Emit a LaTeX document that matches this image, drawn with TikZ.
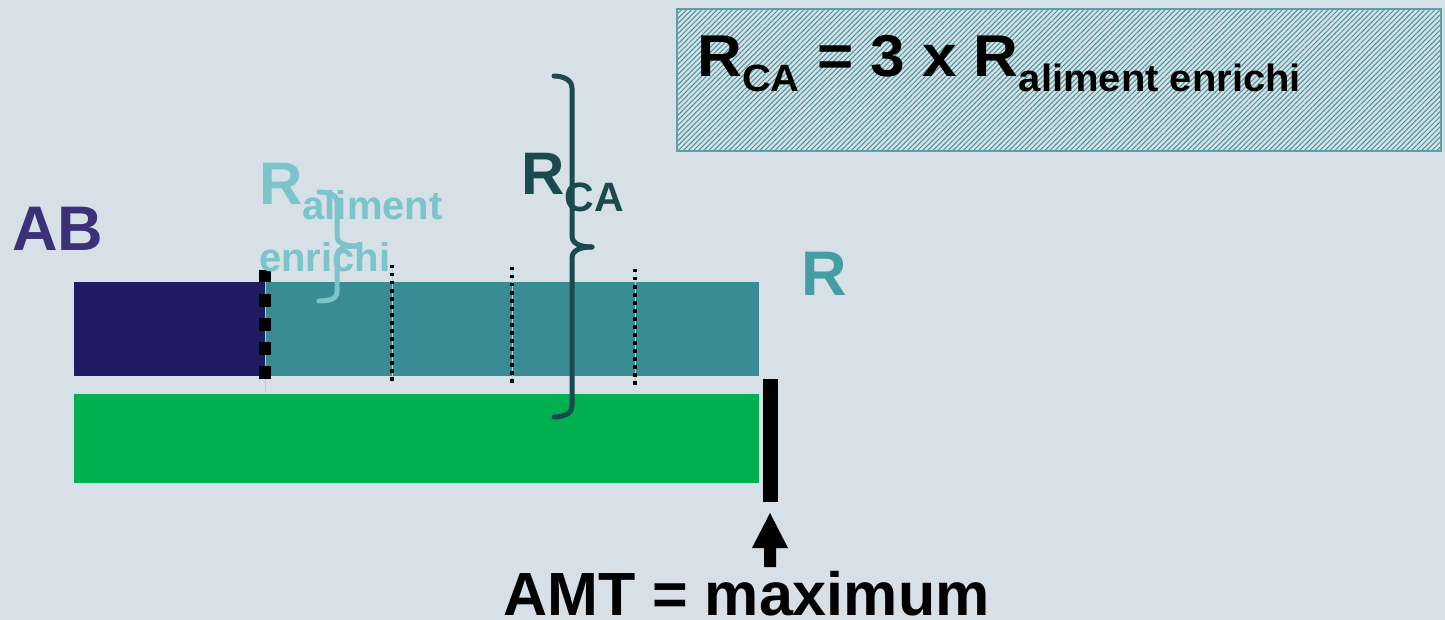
\documentclass[tikz,border=0pt]{standalone}
\usepackage{fontspec}
\setmainfont{Liberation Sans}
\usetikzlibrary{patterns.meta}
\definecolor{bgc}{RGB}{214,224,230}
\definecolor{navy}{RGB}{30,26,100}
\definecolor{tealbar}{RGB}{58,140,148}
\definecolor{greenbar}{RGB}{0,176,80}
\definecolor{abcol}{RGB}{59,49,120}
\definecolor{rcol}{RGB}{69,156,164}
\definecolor{lightteal}{RGB}{122,196,202}
\definecolor{darkteal}{RGB}{26,74,78}
\definecolor{boxline}{RGB}{90,160,166}
\definecolor{hatch}{RGB}{70,150,156}
\newcommand{\fs}[1]{\fontsize{#1}{#1}\selectfont}
\tikzset{
  lbl/.style={inner sep=0pt, anchor=base west, font=\bfseries},
  dotline/.style={line width=3.5pt, dash pattern=on 3.5pt off 4.5pt, black},
  thinline/.style={line width=1pt, color=lightteal!70!white},
  bracestyle/.style={line width=5pt, line cap=round, line join=round}
}
\begin{document}
\begin{tikzpicture}[x=1pt,y=-1pt]
\fill[bgc] (0,0) rectangle (1445,620);
\useasboundingbox (0,0) rectangle (1445,620);
% hatched box
\path[pattern={Lines[angle=45,distance=3.6pt,line width=1pt]}, pattern color=hatch] (677,9) rectangle (1441,151);
\draw[boxline, line width=1.5pt] (677,9) rectangle (1441,151);
\node[lbl] (eq) at (697,77) {\scalebox{1.052}[1]{\fs{59}R\raisebox{-15pt}{\fs{38}CA} = 3 x R\raisebox{-15pt}{\fs{38}aliment enrichi}}};
% bars
\fill[navy] (74,282) rectangle (265,376);
\fill[tealbar] (265,282) rectangle (759,376);
\fill[greenbar] (74,394) rectangle (759,483);
% thin light lines
\draw[thinline] (265,270) -- (265,392);
\draw[thinline] (392,265) -- (392,380);
\draw[thinline] (512,267) -- (512,382);
\draw[thinline] (635,269) -- (635,385);
% square-dashed marker
\draw[line width=12.5pt, dash pattern=on 12.5pt off 11.5pt] (265,270) -- (265,379);
% dotted lines
\draw[dotline] (392,265) -- (392,381);
\draw[dotline] (512,267) -- (512,383);
\draw[dotline] (635,269) -- (635,385);
% labels
\node[lbl, abcol] (ab) at (12,251) {\fs{63}AB};
\node[lbl, rcol] (r) at (801,295) {\fs{63}R};
\node[lbl, lightteal] (ral) at (259,205) {\fs{60}R\raisebox{-15pt}{\fs{40}aliment}};
\node[lbl, lightteal] (renr) at (259,272) {\fs{40}enrichi};
% small brace
\draw[lightteal, bracestyle] (319,192) to[out=0,in=90] (337,202) -- (337,236) to[out=-90,in=180] (357,246);
\draw[lightteal, bracestyle] (357,246) to[out=180,in=90] (337,256) -- (337,292) to[out=-90,in=0] (319,301);
% big brace
\node[lbl, darkteal] (rca) at (521,195) {\fs{60}R\raisebox{-17pt}{\fs{41}CA}};
\draw[darkteal, bracestyle] (554,76) to[out=0,in=90] (572,88) -- (572,236) to[out=-90,in=180] (592,247);
\draw[darkteal, bracestyle] (592,247) to[out=180,in=90] (572,258) -- (572,406) to[out=-90,in=0] (554,417);
% black bar and arrow
\fill[black] (763,379) rectangle (778,502);
\coordinate (tip) at (770,513);
\node[lbl] (amt) at (503,615) {\fs{61}AMT = maximum};
\fill[black] (tip) -- (788,548) -- (776,548) -- (776,567) -- (764,567) -- (764,548) -- (752,548) -- cycle;
\end{tikzpicture}
\end{document}
